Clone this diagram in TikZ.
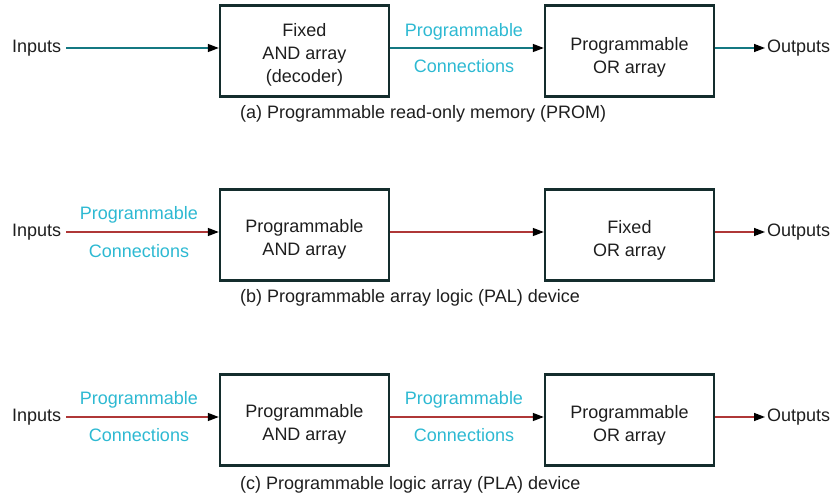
\documentclass[tikz,border=0pt]{standalone}
\usepackage{fontspec}
\setmainfont{Liberation Sans}
\usetikzlibrary{arrows.meta}
\definecolor{lbl}{RGB}{45,185,210}
\definecolor{tealln}{RGB}{20,120,130}
\definecolor{redln}{RGB}{175,55,55}
\definecolor{boxc}{RGB}{20,45,45}
\definecolor{txtc}{RGB}{30,30,30}
\tikzset{
  blk/.style={draw=boxc, line width=2.4pt, minimum width=169pt, minimum height=91pt, inner sep=0pt},
  txt/.style={inner sep=0pt, text=txtc, align=center, font=\fontsize{18}{23}\selectfont},
  lab/.style={inner sep=0pt, text=lbl, font=\fontsize{18}{20}\selectfont},
  captxt/.style={inner sep=0pt, anchor=west, text=txtc, font=\fontsize{18}{20}\selectfont},
  conn/.style={line width=1.4pt, -{Triangle[length=11pt,width=8pt,fill=black,color=black]}},
}
\begin{document}
\begin{tikzpicture}[x=1pt,y=-1pt]
\useasboundingbox (0,0) rectangle (830,497);
% ---------- (a) PROM
\node[blk] (a1) at (304.5,51) {};
\node[txt] (a1t) at (304.5,55) {Fixed\\AND array\\(decoder)};
\node[blk] (a2) at (629.5,51) {};
\node[txt] (a2t) at (629.5,57) {Programmable\\OR array};
\node[txt, anchor=west] (ain) at (12,48) {Inputs};
\node[txt, anchor=west] (aout) at (767,48) {Outputs};
\coordinate (ainR) at (66,48);
\coordinate (aoutL) at (765,48);
\draw[conn, tealln] (ainR) -- (ainR -| a1.west);
\draw[conn, tealln] (a1.east |- 0,48) -- (a2.west |- 0,48);
\draw[conn, tealln] (a2.east |- 0,48) -- (aoutL);
\node[lab] (al1) at (464,32) {Programmable};
\node[lab] (al2) at (464,66) {Connections};
\node[captxt] (acap) at (240,114) {(a) Programmable read-only memory (PROM)};
% ---------- (b) PAL
\node[blk] (b1) at (304.5,235) {};
\node[txt] (b1t) at (304.5,239) {Programmable\\AND array};
\node[blk] (b2) at (629.5,235) {};
\node[txt] (b2t) at (629.5,240) {Fixed\\OR array};
\node[txt, anchor=west] (bin) at (12,232) {Inputs};
\node[txt, anchor=west] (bout) at (767,232) {Outputs};
\coordinate (binR) at (66,232);
\coordinate (boutL) at (765,232);
\draw[conn, redln] (binR) -- (binR -| b1.west);
\draw[conn, redln] (b1.east |- 0,232) -- (b2.west |- 0,232);
\draw[conn, redln] (b2.east |- 0,232) -- (boutL);
\node[lab] (bl1) at (139,215) {Programmable};
\node[lab] (bl2) at (139,251) {Connections};
\node[captxt] (bcap) at (240,298) {(b) Programmable array logic (PAL) device};
% ---------- (c) PLA
\node[blk] (c1) at (304.5,420) {};
\node[txt] (c1t) at (304.5,424) {Programmable\\AND array};
\node[blk] (c2) at (629.5,420) {};
\node[txt] (c2t) at (629.5,425) {Programmable\\OR array};
\node[txt, anchor=west] (cin) at (12,417) {Inputs};
\node[txt, anchor=west] (cout) at (767,417) {Outputs};
\coordinate (cinR) at (66,417);
\coordinate (coutL) at (765,417);
\draw[conn, redln] (cinR) -- (cinR -| c1.west);
\draw[conn, redln] (c1.east |- 0,417) -- (c2.west |- 0,417);
\draw[conn, redln] (c2.east |- 0,417) -- (coutL);
\node[lab] (cl1) at (139,400) {Programmable};
\node[lab] (cl2) at (139,435) {Connections};
\node[lab] (cl3) at (464,400) {Programmable};
\node[lab] (cl4) at (464,435) {Connections};
\node[captxt] (ccap) at (240,485) {(c) Programmable logic array (PLA) device};
\end{tikzpicture}
\end{document}
